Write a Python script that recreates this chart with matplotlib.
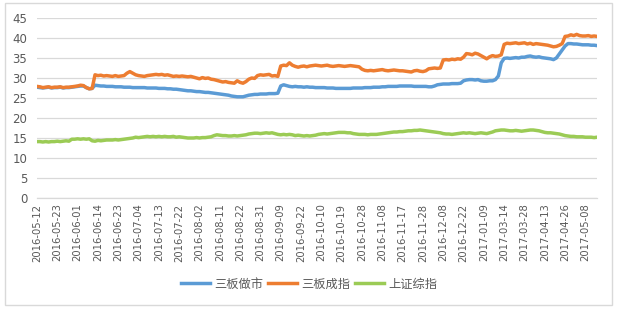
import numpy as np
import matplotlib.pyplot as plt
from matplotlib.patches import Rectangle

# tick labels on the category axis (one label every 7 trading days)
tick_labels = ['2016-05-12', '2016-05-23', '2016-06-01', '2016-06-14', '2016-06-23',
               '2016-07-04', '2016-07-13', '2016-07-22', '2016-08-02', '2016-08-11',
               '2016-08-22', '2016-08-31', '2016-09-09', '2016-09-22', '2016-10-10',
               '2016-10-19', '2016-10-28', '2016-11-08', '2016-11-17', '2016-11-28',
               '2016-12-08', '2016-12-22', '2017-01-09', '2017-03-14', '2017-03-28',
               '2017-04-13', '2017-04-26', '2017-05-08']

series_names = ['三板做市', '三板成指', '上证综指']

# 三板做市
market_making = [
    27.7, 27.6, 27.5, 27.6, 27.7, 27.5, 27.6, 27.6, 27.7, 27.5, 27.6, 27.6, 27.7, 27.8,
    27.9, 28.0, 28.0, 27.6, 27.3, 27.4, 28.2, 28.1, 28.0, 28.0, 27.9, 27.9, 27.9, 27.8,
    27.8, 27.8, 27.7, 27.7, 27.7, 27.6, 27.6, 27.6, 27.6, 27.6, 27.5, 27.5, 27.5, 27.5,
    27.4, 27.4, 27.4, 27.3, 27.3, 27.2, 27.2, 27.1, 27.0, 26.9, 26.8, 26.8, 26.7, 26.6,
    26.6, 26.5, 26.4, 26.4, 26.3, 26.2, 26.1, 26.0, 25.9, 25.8, 25.7, 25.5, 25.4, 25.3,
    25.3, 25.3, 25.5, 25.7, 25.8, 25.9, 25.9, 26.0, 26.0, 26.0, 26.1, 26.1, 26.1, 26.2,
    28.0, 28.3, 28.1, 27.9, 27.8, 27.9, 27.8, 27.8, 27.7, 27.8, 27.7, 27.7, 27.6, 27.6,
    27.6, 27.6, 27.5, 27.5, 27.5, 27.4, 27.4, 27.4, 27.4, 27.4, 27.4, 27.5, 27.5, 27.5,
    27.5, 27.6, 27.6, 27.6, 27.7, 27.7, 27.7, 27.8, 27.8, 27.9, 27.9, 27.9, 27.9, 28.0,
    28.0, 28.0, 28.0, 28.0, 27.9, 27.9, 27.9, 27.9, 27.9, 27.8, 27.8, 28.0, 28.3, 28.4,
    28.5, 28.5, 28.5, 28.6, 28.6, 28.6, 28.7, 29.3, 29.5, 29.6, 29.6, 29.5, 29.6, 29.3,
    29.2, 29.2, 29.3, 29.3, 29.6, 30.5, 33.8, 34.9, 35.0, 34.9, 35.0, 35.1, 35.0, 35.2,
    35.2, 35.4, 35.5, 35.3, 35.2, 35.3, 35.1, 35.0, 34.9, 34.8, 34.6, 35.0, 36.0, 37.0,
    38.0, 38.6, 38.6, 38.5, 38.5, 38.4, 38.3, 38.3, 38.3, 38.2, 38.2, 38.1,
]

# 三板成指
composite = [
    27.9, 27.8, 27.6, 27.7, 27.8, 27.6, 27.7, 27.7, 27.8, 27.6, 27.7, 27.7, 27.8, 27.9,
    28.0, 28.2, 28.1, 27.6, 27.3, 27.4, 30.8, 30.6, 30.7, 30.5, 30.6, 30.5, 30.4, 30.6,
    30.4, 30.5, 30.6, 31.2, 31.6, 31.2, 30.8, 30.6, 30.5, 30.4, 30.6, 30.7, 30.8, 30.9,
    30.8, 30.9, 30.7, 30.8, 30.6, 30.4, 30.5, 30.4, 30.5, 30.4, 30.3, 30.4, 30.2, 30.0,
    29.8, 30.1, 29.9, 30.0, 29.7, 29.6, 29.4, 29.2, 29.0, 29.1, 28.9, 28.8, 28.7, 29.3,
    28.9, 28.7, 29.1, 29.7, 30.0, 29.9, 30.6, 30.8, 30.7, 30.8, 30.9, 30.5, 30.6, 30.4,
    33.0, 33.2, 33.1, 33.8, 33.2, 32.9, 32.7, 32.9, 33.0, 32.8, 33.0, 33.1, 33.2, 33.1,
    33.0, 33.1, 33.2, 33.0, 32.9, 33.0, 33.1, 33.0, 32.9, 33.0, 33.1, 33.0, 32.9, 32.8,
    32.2, 31.9, 31.8, 31.9, 31.8, 31.9, 32.0, 32.1, 31.9, 31.8, 31.9, 32.0, 31.9, 31.8,
    31.8, 31.7, 31.6, 31.5, 31.8, 31.9, 31.7, 31.6, 31.8, 32.3, 32.4, 32.5, 32.4, 32.5,
    34.5, 34.6, 34.5, 34.7, 34.6, 34.8, 34.7, 35.2, 36.1, 36.0, 35.8, 36.2, 36.0, 35.6,
    35.2, 34.8, 35.3, 35.6, 35.4, 35.5, 35.8, 38.4, 38.7, 38.6, 38.7, 38.8, 38.6, 38.7,
    38.8, 38.5, 38.7, 38.4, 38.6, 38.5, 38.4, 38.3, 38.2, 38.0, 37.8, 37.9, 38.2, 38.6,
    40.4, 40.5, 40.8, 40.6, 40.9, 40.6, 40.5, 40.5, 40.6, 40.4, 40.5, 40.4,
]

# 上证综指
shanghai = [
    14.1, 14.1, 14.0, 14.1, 14.0, 14.1, 14.1, 14.2, 14.1, 14.2, 14.3, 14.2, 14.7, 14.7,
    14.8, 14.7, 14.8, 14.7, 14.8, 14.3, 14.2, 14.4, 14.3, 14.4, 14.5, 14.5, 14.5, 14.6,
    14.5, 14.6, 14.7, 14.8, 14.9, 15.0, 15.2, 15.1, 15.2, 15.3, 15.4, 15.3, 15.4, 15.3,
    15.4, 15.3, 15.4, 15.3, 15.3, 15.4, 15.2, 15.3, 15.2, 15.1, 15.0, 15.0, 15.0, 15.1,
    15.0, 15.1, 15.1, 15.2, 15.3, 15.6, 15.8, 15.7, 15.6, 15.6, 15.5, 15.5, 15.6, 15.5,
    15.6, 15.7, 15.8, 16.0, 16.1, 16.2, 16.2, 16.1, 16.2, 16.3, 16.2, 16.3, 16.1, 15.9,
    15.8, 15.9, 15.8, 15.9, 15.8, 15.6, 15.7, 15.6, 15.5, 15.6, 15.5, 15.6, 15.7, 15.9,
    16.0, 16.1, 16.0, 16.1, 16.2, 16.3, 16.4, 16.4, 16.4, 16.3, 16.3, 16.1, 16.0, 15.9,
    15.9, 15.9, 15.8, 15.9, 15.9, 15.9, 16.0, 16.1, 16.2, 16.3, 16.4, 16.5, 16.5, 16.6,
    16.6, 16.7, 16.8, 16.8, 16.9, 16.9, 17.0, 16.9, 16.8, 16.7, 16.6, 16.5, 16.4, 16.3,
    16.1, 16.0, 16.0, 15.9, 16.0, 16.1, 16.2, 16.3, 16.2, 16.3, 16.2, 16.1, 16.2, 16.3,
    16.2, 16.1, 16.3, 16.5, 16.8, 16.9, 17.0, 17.0, 16.9, 16.8, 16.8, 16.9, 16.8, 16.7,
    16.8, 16.9, 17.0, 17.0, 16.9, 16.8, 16.6, 16.4, 16.3, 16.3, 16.2, 16.1, 16.0, 15.8,
    15.6, 15.5, 15.4, 15.4, 15.3, 15.3, 15.3, 15.2, 15.2, 15.2, 15.1, 15.2,
]

colors = ['#5B9BD5', '#ED7D31', '#9BCB55']
text_grey = '#595959'
grid_grey = '#D9D9D9'

fig = plt.figure(figsize=(6.18, 3.11), dpi=100)
ax = fig.add_axes([37/618, 1 - 198/311, 560/618, 180/311])

# outer chart border like Excel
fig.patches.append(Rectangle((5/618, 6/311), 607/618, 302/311, transform=fig.transFigure,
                             fill=False, edgecolor=grid_grey, linewidth=1.0))

x = np.arange(len(market_making))
for vals, name, c in zip([market_making, composite, shanghai], series_names, colors):
    ax.plot(x, vals, color=c, linewidth=2.5, label=name, solid_joinstyle='round')

ax.set_xlim(0, len(x) - 1)
ax.set_ylim(0, 45)
ax.set_yticks(range(0, 50, 5))
ax.yaxis.grid(True, color=grid_grey, linewidth=0.9)
ax.set_axisbelow(True)
for s in ['top', 'right', 'left']:
    ax.spines[s].set_visible(False)
ax.spines['bottom'].set_color(grid_grey)
ax.spines['bottom'].set_linewidth(0.9)

ax.set_xticks(np.arange(0, len(x), 7)[:len(tick_labels)])
ax.set_xticklabels(tick_labels, rotation=90, fontsize=7.2, color=text_grey)
ax.tick_params(axis='x', length=0, pad=4)
ax.tick_params(axis='y', length=0, pad=7, labelsize=8.5, labelcolor=text_grey)

leg = fig.legend(loc='center', bbox_to_anchor=(0.5, 1 - 284/311), ncol=3, frameon=False,
                 prop={'family': ['Noto Sans CJK SC', 'DejaVu Sans'], 'size': 8.8},
                 handlelength=2.4, handletextpad=0.3, columnspacing=0.4)
for t in leg.get_texts():
    t.set_color(text_grey)

fig.savefig('out.png', dpi=100, facecolor='white')
